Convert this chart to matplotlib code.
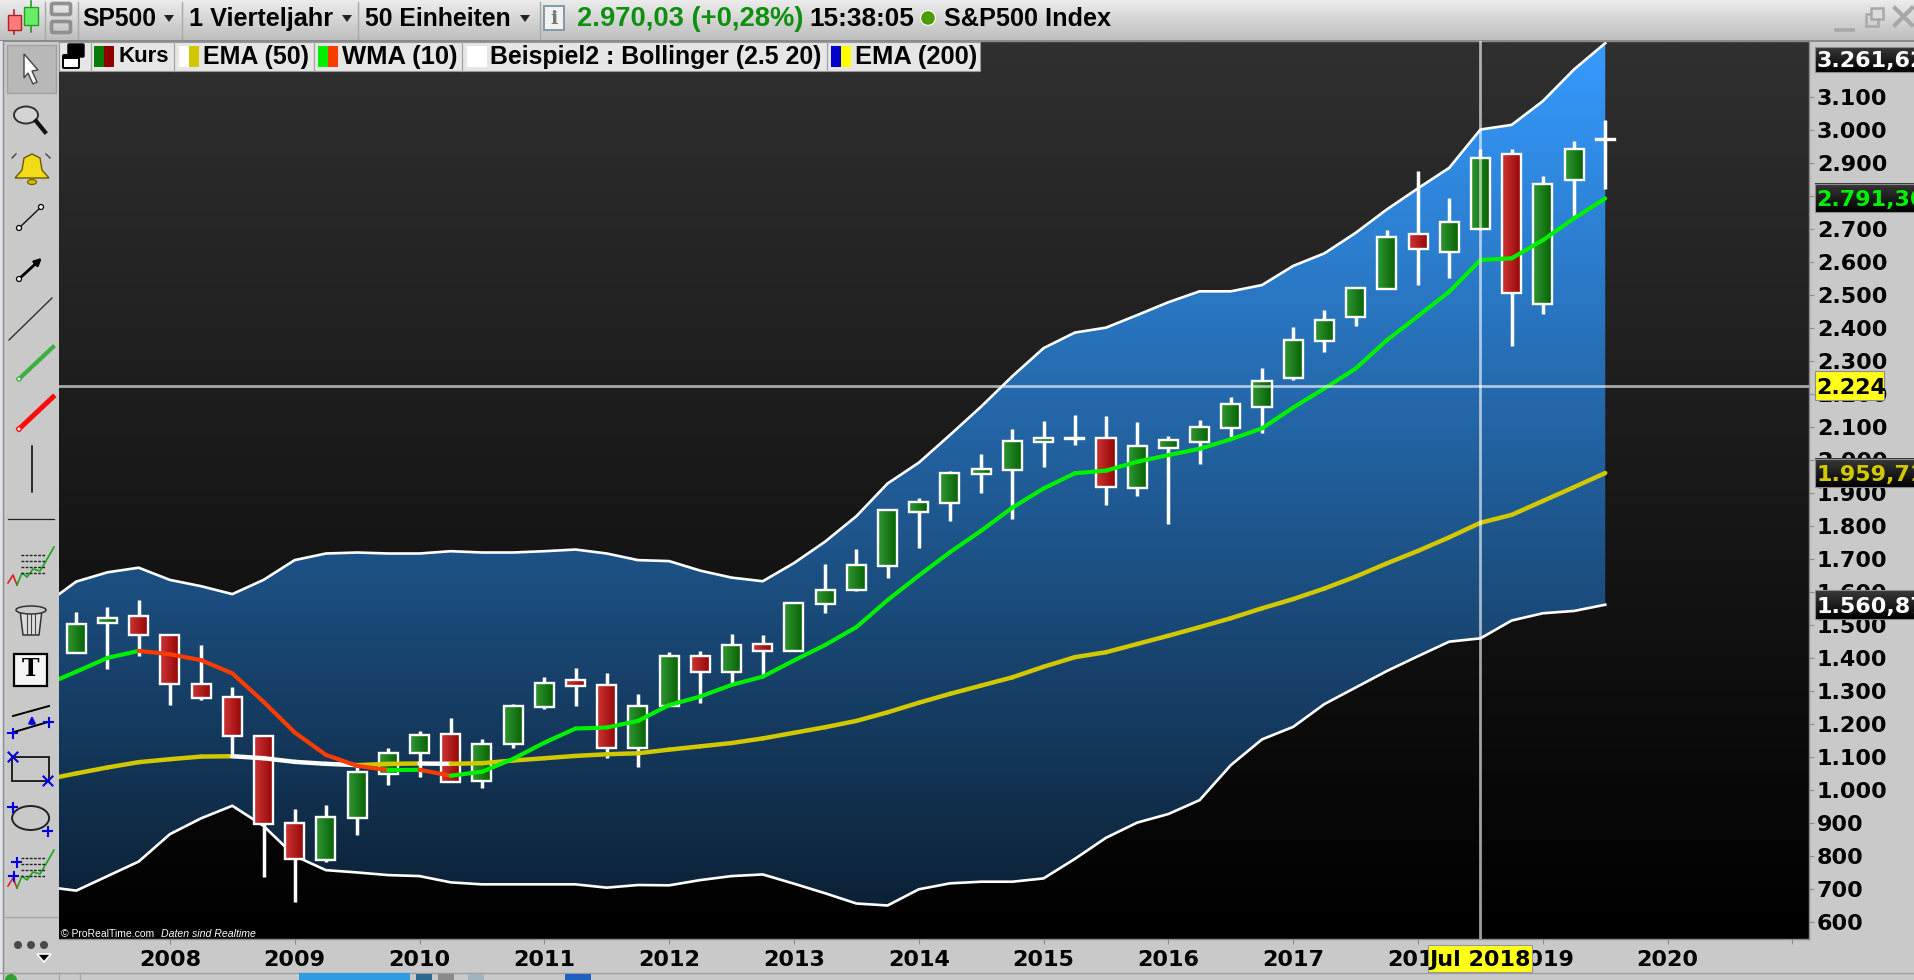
import numpy as np
import matplotlib
matplotlib.use("Agg")
import matplotlib.pyplot as plt
from matplotlib.patches import Rectangle, Polygon, Ellipse, Circle, FancyBboxPatch
from matplotlib.colors import LinearSegmentedColormap

# ---------------- data ----------------
opens = [1415,1504,1526,1468,1322,1280,1164,899,788,914,1048,1113,1169,1028,1139,1252,1333,1318,1126,1255,
         1407,1357,1441,1420,1563,1606,1679,1842,1869,1957,1969,2054,2067,2066,1914,2035,2053,2095,2160,2246,
         2359,2433,2517,2683,2628,2700,2926,2473,2846,2968]
highs = [1538,1553,1575,1471,1440,1313,1167,941,953,1075,1126,1177,1217,1153,1259,1341,1368,1353,1289,1417,
         1420,1472,1468,1568,1684,1730,1849,1883,1966,2017,2093,2117,2135,2133,2114,2072,2120,2190,2279,2401,
         2453,2520,2695,2874,2792,2941,2940,2859,2965,3028]
lows = [1415,1367,1406,1256,1272,1110,737,661,783,863,1015,1040,1024,1006,1128,1246,1255,1097,1070,1255,
        1262,1323,1348,1420,1535,1601,1643,1734,1813,1900,1820,1979,2046,1863,1890,1805,1987,2070,2082,2241,
        2327,2405,2517,2529,2551,2695,2345,2441,2731,2821]
closes = [1502,1522,1468,1322,1278,1164,897,792,919,1054,1113,1167,1024,1139,1255,1324,1315,1127,1254,1406,
          1357,1439,1420,1567,1606,1682,1848,1872,1961,1972,2058,2067,2063,1916,2042,2061,2100,2169,2238,2362,
          2423,2520,2675,2638,2721,2914,2504,2835,2941,2970]

# line series start one quarter before the first candle (cut off by the chart's left edge)
boll_upper = [1562,1631,1659,1673,1636,1617,1593,1636,1696,1716,1719,1716,1716,1723,1719,1719,1723,1728,1716,1696,
              1693,1664,1643,1632,1687,1752,1829,1928,1991,2075,2161,2253,2338,2385,2400,2438,2477,2510,2510,2529,
              2587,2625,2687,2758,2822,2884,3000,3014,3086,3182,3261.6]
boll_lower = [707,695,739,783,866,914,952,891,800,757,750,742,739,720,714,714,714,714,704,712,
              711,727,739,744,716,687,656,650,699,717,722,722,732,791,855,901,927,969,1075,1153,
              1191,1260,1310,1360,1405,1449,1459,1513,1535,1542,1560.9]
ema50 = [1031,1050,1068,1084,1093,1101,1102,1096,1085,1079,1075,1079,1080,1079,1081,1089,1096,1103,1108,1111,
         1122,1132,1142,1156,1173,1190,1209,1235,1264,1291,1316,1341,1373,1402,1417,1442,1467,1493,1520,1550,
         1578,1610,1646,1686,1724,1765,1809,1833,1875,1917,1959.7]
wma10 = [1318,1358,1400,1421,1411,1393,1353,1267,1174,1106,1073,1060,1061,1043,1055,1094,1143,1186,1189,1209,
         1257,1283,1318,1343,1392,1439,1493,1575,1649,1720,1785,1855,1913,1959,1967,1994,2014,2033,2062,2095,
         2158,2216,2276,2362,2435,2509,2605,2610,2665,2731,2791.3]

year_labels = ["2008","2009","2010","2011","2012","2013","2014","2015","2016","2017","2018","2019","2020",""]
price_ticks = list(range(600, 3200, 100))
cross_price = 2224
cross_index = 45
value_tags = [(2791.30, "2.791,30", "#00f000"), (1959.71, "1.959,71", "#d2c800"), (1560.87, "1.560,87", "#ffffff")]

# ---------------- figure ----------------
W, H = 1915, 980
fig = plt.figure(figsize=(W/100, H/100), dpi=100, facecolor="#c9c9c9")
L, R, T, B = 58.6, 1809.0, 41.5, 939.0

ui = fig.add_axes([0, 0, 1, 1], zorder=0)
ax = fig.add_axes([L/W, 1-B/H, (R-L)/W, (B-T)/H], zorder=1)
top = fig.add_axes([0, 0, 1, 1], zorder=2)
for a in (ui, top):
    a.set_xlim(0, W); a.set_ylim(H, 0); a.axis("off"); a.patch.set_alpha(0)

# ---------------- chart ----------------
XMIN, XMAX = -0.567, 55.53
YMIN, YMAX = 548.5, 3266.6
ext = [XMIN, XMAX, YMIN, YMAX]
grad = np.linspace(0, 1, 512).reshape(-1, 1)

bg = LinearSegmentedColormap.from_list("bg", ["#303030", "#000000"])
ax.imshow(grad, extent=ext, cmap=bg, aspect="auto", origin="upper", zorder=0)

x_lines = np.arange(-1, 50)
band = ax.fill_between(x_lines, boll_lower, boll_upper, color="none", zorder=1)
blue = LinearSegmentedColormap.from_list("blue", ["#369bff", "#0a1c2d"])
im = ax.imshow(grad, extent=ext, cmap=blue, aspect="auto", origin="upper", zorder=1)
im.set_clip_path(band.get_paths()[0], transform=ax.transData)

ax.plot(x_lines, boll_upper, color="white", lw=1.9, zorder=2)
ax.plot(x_lines, boll_lower, color="white", lw=1.9, zorder=2)

hw = 0.305
gu = LinearSegmentedColormap.from_list("gu", ["#2f9632", "#075f02"])
gd = LinearSegmentedColormap.from_list("gd", ["#cd3535", "#930404"])
hgrad = np.linspace(0, 1, 32).reshape(1, -1)
for i, (o, h, l, c) in enumerate(zip(opens, highs, lows, closes)):
    ax.plot([i, i], [l, h], color="white", lw=2.5, solid_capstyle="butt", zorder=3)
    lo, hi = min(o, c), max(o, c)
    ax.imshow(hgrad, extent=[i-hw, i+hw, lo, hi], cmap=gu if c >= o else gd, aspect="auto", zorder=3.1)
    ax.add_patch(Rectangle((i-hw, lo), 2*hw, hi-lo, fill=False, ec="white", lw=1.7, zorder=3.2))

def two_tone(x, y, up, down, lw, z):
    for k in range(len(x)-1):
        col = up if y[k+1] >= y[k] else down
        ax.plot(x[k:k+2], y[k:k+2], color=col, lw=lw, zorder=z, solid_capstyle="round")

two_tone(x_lines, ema50, "#d2c800", "#ffffff", 3.2, 4)
two_tone(x_lines, wma10, "#00f000", "#fa3c00", 3.0, 4.1)

ax.axhline(cross_price, color="white", alpha=0.62, lw=2.0, zorder=5)
ax.axvline(cross_index, color="white", alpha=0.62, lw=2.0, zorder=5)

ax.set_xlim(XMIN, XMAX); ax.set_ylim(YMIN, YMAX)
ax.set_xticks(np.arange(len(year_labels))*4 + 3)
ax.set_xticklabels(year_labels)
ax.yaxis.tick_right()
ax.set_yticks(price_ticks)
ax.set_yticklabels([f"{v:,}".replace(",", ".") for v in price_ticks])
ax.tick_params(axis="x", length=3.5, color="#8c8c8c", pad=4.2, labelsize=16)
ax.tick_params(axis="y", length=3.5, color="#8c8c8c", pad=2.2, labelsize=16)
for lab in ax.get_xticklabels() + ax.get_yticklabels():
    lab.set_fontweight("bold"); lab.set_color("black"); lab.set_family("DejaVu Sans")
for s, sp in ax.spines.items():
    sp.set_color("#8c8c8c"); sp.set_linewidth(1.0)
ax.spines["left"].set_visible(False)

def py(v):
    return H - ax.transData.transform((0, v))[1]

def dark_box(y0, y1):
    dk = LinearSegmentedColormap.from_list("dk", ["#3a3a3a", "#000000"])
    top.imshow(grad, extent=[1814.6, W, y1, y0], cmap=dk, aspect="auto", zorder=3)
    top.add_patch(Rectangle((1814.6, y0), W-1814.6+2, y1-y0, fill=False, ec="#8c8c8c", lw=0.8, zorder=3.1))

LAB = dict(fontsize=16, fontweight="bold", family="DejaVu Sans", va="center_baseline", zorder=4)
dark_box(47, 71.7)
top.text(1816.6, 58.5, "3.261,62", color="white", **LAB)
for v, s, col in value_tags:
    yc = py(v)
    dark_box(yc-14.5, yc+14)
    top.text(1816.6, yc, s, color=col, **LAB)
yc = py(cross_price)
top.add_patch(Rectangle((1814.6, yc-14.5), 69.4, 29, fc="#ffff1a", ec="#8c8c8c", lw=0.8, zorder=3))
top.text(1816.6, yc, "2.224", color="black", **LAB)
top.add_patch(Rectangle((1428, 944.6), 104, 27.4, fc="#ffff1a", ec="#999999", lw=0.8, zorder=3))
top.text(1480, 958, "Jul 2018", color="black", ha="center", **LAB)

# ---------------- window chrome ----------------
lg = LinearSegmentedColormap.from_list("lg", ["#ececec", "#bdbdbd"])
ui.imshow(grad, extent=[0, W, 41, 0], cmap=lg, aspect="auto", zorder=0)
ui.set_xlim(0, W); ui.set_ylim(H, 0)
top.set_xlim(0, W); top.set_ylim(H, 0)
ui.plot([0, W], [41, 41], color="#808080", lw=1.2, zorder=1)
ui.add_patch(Rectangle((0, 41), 3.5, H, fc="#dfe3e8", ec="none", zorder=1))
ui.plot([3.5, 3.5], [41, H], color="#8c8c8c", lw=1, zorder=1)
for x in (45, 78, 182, 358, 540):
    ui.plot([x, x], [2, 39], color="#a8a8a8", lw=1, zorder=1)

r = fig.canvas.get_renderer()
def fit(layer, x0, x1, yc, s, color="black", family="Liberation Sans", weight="bold", style="normal", z=5):
    t = layer.text(x0, yc, s, color=color, family=family, fontweight=weight, style=style,
                   fontsize=14, va="center", zorder=z)
    w = t.get_window_extent(r).width
    t.set_fontsize(14*(x1-x0)/w)
    return t

fit(top, 61, 155, 933.5, "© ProRealTime.com", color="white", weight="normal")
fit(top, 161, 256, 933.5, "Daten sind Realtime", color="white", weight="normal", style="italic")

def tri(x, y, s=5, c="#222222"):
    ui.add_patch(Polygon([(x-s, y-3), (x+s, y-3), (x, y+4)], fc=c, ec="none", zorder=3))

# candle logo
ui.plot([14.5, 14.5], [10, 34], color="#c02020", lw=1.2, zorder=2)
ui.add_patch(Rectangle((8.5, 15), 12.5, 15, fc="#ff7a7a", ec="#b02020", lw=1, zorder=3))
ui.plot([31.5, 31.5], [1, 32], color="#20a020", lw=1.2, zorder=2)
ui.add_patch(Rectangle((24.5, 7), 14, 18, fc="#66ee66", ec="#20a020", lw=1, zorder=3))
# chain links
for yy in (10, 28):
    ui.add_patch(FancyBboxPatch((53, yy-5), 16, 8, boxstyle="round,pad=1.5", fc="none", ec="#8f8f8f", lw=2.6, zorder=3))

fit(ui, 82, 156, 19, "SP500")
tri(169, 18)
fit(ui, 189, 333, 19, "1 Vierteljahr")
tri(347, 18)
fit(ui, 365, 511, 19, "50 Einheiten")
tri(525, 18)
ui.add_patch(Rectangle((544, 6), 20, 24, fc="#f2f2f2", ec="#7f9aa8", lw=1.4, zorder=3))
ui.text(554, 18.5, "i", color="#777777", family="DejaVu Serif", fontweight="bold", fontsize=14, ha="center", va="center", zorder=4)
fit(ui, 577, 803, 19, "2.970,03 (+0,28%)", color="#0f8f0f")
fit(ui, 809, 914, 19, "15:38:05")
ui.add_patch(Circle((928, 18), 8, fc="#ffffff", ec="none", zorder=3))
ui.add_patch(Circle((928, 18), 6.8, fc="#4f9a00", ec="none", zorder=4))
fit(ui, 944, 1111, 19, "S&P500 Index")

# window buttons
ui.plot([1836, 1853], [30, 30], color="#a8a8a8", lw=2.6, zorder=3)
ui.add_patch(Rectangle((1866, 14), 12, 12, fc="none", ec="#a8a8a8", lw=1.8, zorder=3))
ui.add_patch(Rectangle((1871, 8), 12, 11, fc="#dddddd", ec="#a8a8a8", lw=1.8, zorder=3))
ui.plot([1895, 1912], [8, 25], color="#a8a8a8", lw=3, zorder=3)
ui.plot([1895, 1912], [25, 8], color="#a8a8a8", lw=3, zorder=3)

# legend strip
top.add_patch(Rectangle((59, 42), 921, 29, fc="#e6e6e6", ec="#9a9a9a", lw=0.8, zorder=3))
for x in (91, 174, 313.7, 462, 826.7):
    top.plot([x, x], [42, 71], color="#a5a5a5", lw=0.9, zorder=4)
top.add_patch(FancyBboxPatch((69, 45), 14, 11, boxstyle="round,pad=1", fc="#000000", ec="#000000", lw=1, zorder=4))
top.add_patch(FancyBboxPatch((64, 56), 14, 11, boxstyle="round,pad=1", fc="#ffffff", ec="#000000", lw=1.4, zorder=5))
top.add_patch(Rectangle((64, 54), 14, 5, fc="#000000", ec="none", zorder=6))
def swatch(x0, x1, x2, c1, c2):
    top.add_patch(Rectangle((x0, 46), x1-x0, 21, fc=c1, ec="none", zorder=5))
    top.add_patch(Rectangle((x1, 46), x2-x1, 21, fc=c2, ec="none", zorder=5))
swatch(94, 104.5, 114.4, "#0a7a0a", "#8f0000")
swatch(179, 189, 199, "#ffffff", "#d2c800")
swatch(318, 328, 338, "#00f000", "#fa3c00")
swatch(467, 477, 487, "#ffffff", "#ffffff")
swatch(831, 841, 851, "#0000c8", "#ffff00")
fit(top, 119, 170, 57, "Kurs")
fit(top, 203, 309, 57, "EMA (50)")
fit(top, 342, 458, 57, "WMA (10)")
fit(top, 490.5, 822, 57, "Beispiel2 : Bollinger (2.5 20)")
fit(top, 855, 977, 57, "EMA (200)")

# left tools
K = dict(zorder=3)
ui.add_patch(Rectangle((6.7, 44.6), 49, 48.4, fc="#b8b8b8", ec="#a0a0a0", lw=0.9, **K))
ui.add_patch(Polygon([(24, 54), (38, 70), (32, 71), (37, 82), (33, 84), (28, 73), (24, 78)], fc="white", ec="#444444", lw=1, zorder=4))
ui.add_patch(Ellipse((26, 115), 24, 17, fc="#d4d4d4", ec="#333333", lw=1.4, **K))
ui.plot([36, 45], [121, 132], color="#111111", lw=3, **K)
ui.add_patch(Polygon([(15, 178), (22, 170), (24, 158), (32, 154), (40, 158), (42, 170), (49, 178)], fc="#f2dc1a", ec="#6a5a00", lw=1, **K))
ui.add_patch(Ellipse((32, 182), 9, 5, fc="#d8b800", ec="#6a5a00", lw=0.8, **K))
for a0, a1 in ((12, 16), (50, 46)):
    ui.plot([a0, a1], [158, 154], color="#444444", lw=1, **K)
ui.plot([19, 41], [228, 207], color="#111111", lw=1, **K)
for p in ((19, 228), (41, 207)):
    ui.add_patch(Circle(p, 2.5, fc="white", ec="black", lw=0.9, zorder=4))
ui.annotate("", xy=(44, 256), xytext=(19, 279), arrowprops=dict(arrowstyle="-|>", color="black", lw=2), zorder=3)
ui.add_patch(Circle((19, 279), 2.5, fc="white", ec="black", lw=0.9, zorder=4))
ui.plot([9, 52], [340, 298], color="#222222", lw=0.9, **K)
ui.plot([19, 53], [379, 347], color="#3cb03c", lw=3, **K)
ui.add_patch(Circle((19, 379), 2, fc="white", ec="#3cb03c", lw=0.9, zorder=4))
ui.plot([19, 53], [429, 397], color="#ff0a0a", lw=3.6, **K)
ui.add_patch(Circle((19, 429), 2.2, fc="white", ec="#ff0a0a", lw=0.9, zorder=4))
ui.plot([32, 32], [446, 492], color="black", lw=1.1, **K)
ui.plot([8, 54], [519, 519], color="#222222", lw=0.9, **K)

def chart_icon(y0):
    xs = np.array([8, 13, 17, 22, 27, 33, 40, 46, 54])
    ys = np.array([36, 28, 38, 26, 30, 22, 24, 14, 0]) + y0
    ui.plot(xs[:3], ys[:3], color="#e02020", lw=1.2, **K)
    ui.plot(xs[2:], ys[2:], color="#18a818", lw=1.2, **K)
    for dy in (8, 14, 20, 26):
        ui.plot([21, 46], [y0+dy, y0+dy], color="#222222", lw=1, ls=(0, (2, 1)), **K)
chart_icon(547)
chart_icon(850)
ui.add_patch(Polygon([(20, 610), (42, 610), (39, 635), (23, 635)], fc="#dddddd", ec="#333333", lw=1.1, **K))
ui.add_patch(Ellipse((31, 610), 30, 8, fc="#cccccc", ec="#333333", lw=1.1, zorder=4))
for xx in (27, 31, 35):
    ui.plot([xx, xx], [614, 634], color="#444444", lw=0.8, zorder=4)
ui.add_patch(Rectangle((14.5, 653.5), 33, 32, fc="#f5f5f5", ec="black", lw=1.6, **K))
ui.text(31, 669, "T", family="DejaVu Serif", fontweight="bold", fontsize=17, ha="center", va="center", zorder=4)
ui.plot([13, 49], [716, 706], color="black", lw=1.4, **K)
ui.plot([14, 48], [732, 722], color="black", lw=1.4, **K)
def plus(x, y, s=4.5):
    ui.plot([x-s, x+s], [y, y], color="#0000e0", lw=1.5, zorder=4)
    ui.plot([x, x], [y-s, y+s], color="#0000e0", lw=1.5, zorder=4)
def cross(x, y, s=4.5):
    ui.plot([x-s, x+s], [y-s, y+s], color="#0000e0", lw=1.5, zorder=4)
    ui.plot([x-s, x+s], [y+s, y-s], color="#0000e0", lw=1.5, zorder=4)
plus(13, 733); plus(49, 722)
ui.annotate("", xy=(32, 713), xytext=(32, 727), arrowprops=dict(arrowstyle="-|>", color="#0000e0", lw=1.5), zorder=4)
ui.add_patch(Rectangle((12.5, 757), 36.5, 24, fc="none", ec="#222222", lw=1.4, **K))
cross(13, 757); cross(48, 781)
ui.add_patch(Ellipse((30.6, 818), 37, 24, fc="#c9c9c9", ec="#222222", lw=1.4, **K))
plus(13, 807); plus(48, 831)
plus(17, 862); plus(14, 876)
for xx in (18, 31, 44):
    ui.add_patch(Ellipse((xx, 945), 8, 8, fc="#4a4a4a", ec="none", **K))
ui.add_patch(Polygon([(37, 954), (51, 954), (44, 962)], fc="black", ec="white", lw=1.2, **K))
ui.plot([3.5, 58], [917, 917], color="#a8a8a8", lw=1, **K)

# status strip at the bottom
ui.plot([0, W], [972.5, 972.5], color="#a0a0a0", lw=1, **K)
ui.add_patch(Rectangle((299, 973), 111, 8, fc="#2f9be0", ec="none", **K))
ui.add_patch(Rectangle((416, 974), 16, 7, fc="#2a6a90", ec="none", **K))
ui.add_patch(Rectangle((438, 974), 16, 7, fc="#8a8a8a", ec="none", **K))
ui.add_patch(Rectangle((468, 974), 16, 7, fc="#a0b4c0", ec="none", **K))
ui.add_patch(Rectangle((565, 974), 26, 7, fc="#2060c0", ec="none", **K))
ui.add_patch(Circle((11, 980), 6, fc="#30a030", ec="none", **K))
for x in (59, 80):
    ui.plot([x, x], [973, 980], color="#a8a8a8", lw=1, **K)

fig.savefig("out.png", dpi=100, facecolor=fig.get_facecolor())
